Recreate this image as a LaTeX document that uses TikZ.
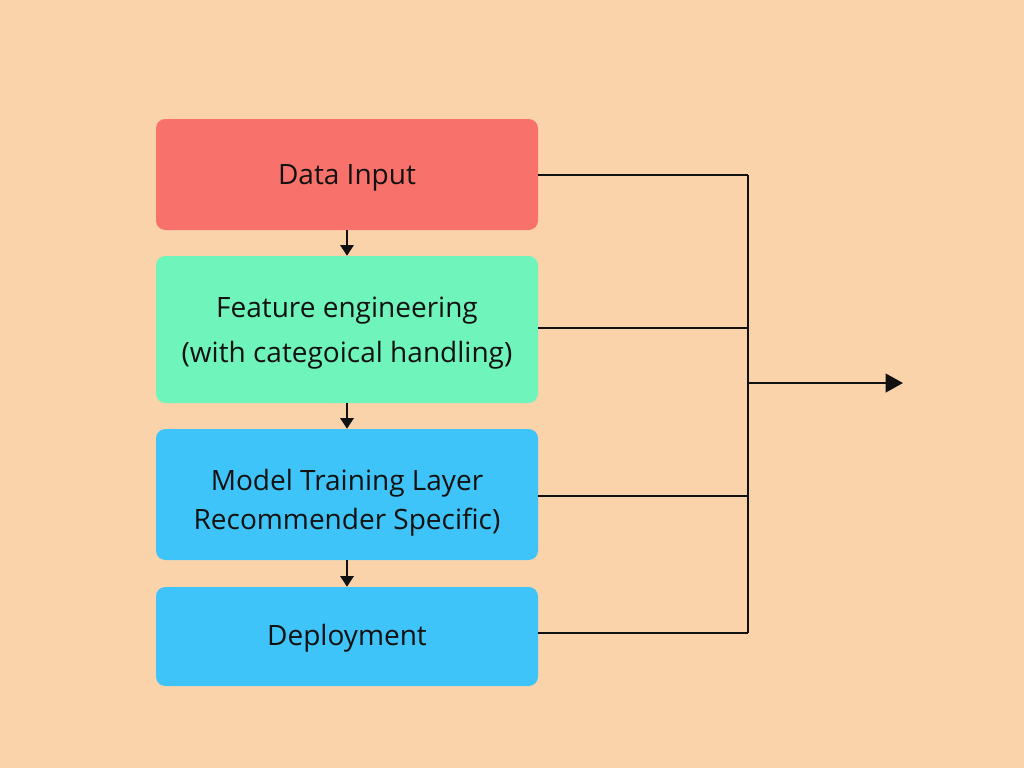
\documentclass[tikz,border=0pt]{standalone}
\usepackage{fontspec}
\setmainfont{Open Sans}
\usetikzlibrary{arrows.meta}
\definecolor{bg}{HTML}{FAD3AB}
\definecolor{cred}{HTML}{F8716A}
\definecolor{cgreen}{HTML}{6FF5BC}
\definecolor{cblue}{HTML}{3EC4F8}
\definecolor{ink}{HTML}{111111}
\tikzset{
  stagebox/.style={rounded corners=7pt, minimum width=286.5pt, inner sep=0pt, draw=none},
  stagetext/.style={align=center, text=ink, font=\fontsize{21}{31}\selectfont, inner sep=0pt},
  link/.style={draw=ink, line width=1.5pt},
  flowarrow/.style={link, -{Triangle[length=8pt,width=10pt]}},
  outarrow/.style={link, -{Triangle[length=13pt,width=14pt]}}
}
\begin{document}
\begin{tikzpicture}[x=0.75pt,y=-0.75pt]
\fill[bg] (0,0) rectangle (1024,768);
\useasboundingbox (0,0) rectangle (1024,768);
\node[stagebox, fill=cred, minimum height=83.25pt] (a) at (347,174.5) {};
\node[stagebox, fill=cgreen, minimum height=110.25pt] (b) at (347,329.5) {};
\node[stagebox, fill=cblue, minimum height=98.25pt] (c) at (347,494.5) {};
\node[stagebox, fill=cblue, minimum height=74.25pt] (d) at (347,636.5) {};
\node[stagetext] (ta) at (347,178) {Data Input};
\node[stagetext] (tb) at (347,333) {Feature engineering\\[3pt](with categoical handling)};
\node[stagetext] (tc) at (347,503) {Model Training Layer\\[-2pt]Recommender Specific)};
\node[stagetext] (td) at (347,638) {Deployment};
\draw[flowarrow] (a.south) -- (b.north);
\draw[flowarrow] (b.south) -- (c.north);
\draw[flowarrow] (c.south) -- (d.north);
\coordinate (ja) at (748,175);
\coordinate (jb) at (748,328);
\coordinate (jc) at (748,496);
\coordinate (jd) at (748,633);
\coordinate (jm) at (748,383);
\coordinate (out) at (903,383);
\draw[link] (a.east |- ja) -- (ja);
\draw[link] (b.east |- jb) -- (jb);
\draw[link] (c.east |- jc) -- (jc);
\draw[link] (d.east |- jd) -- (jd);
\draw[link] (ja) -- (jd);
\draw[outarrow] (jm) -- (out);
\end{tikzpicture}
\end{document}
